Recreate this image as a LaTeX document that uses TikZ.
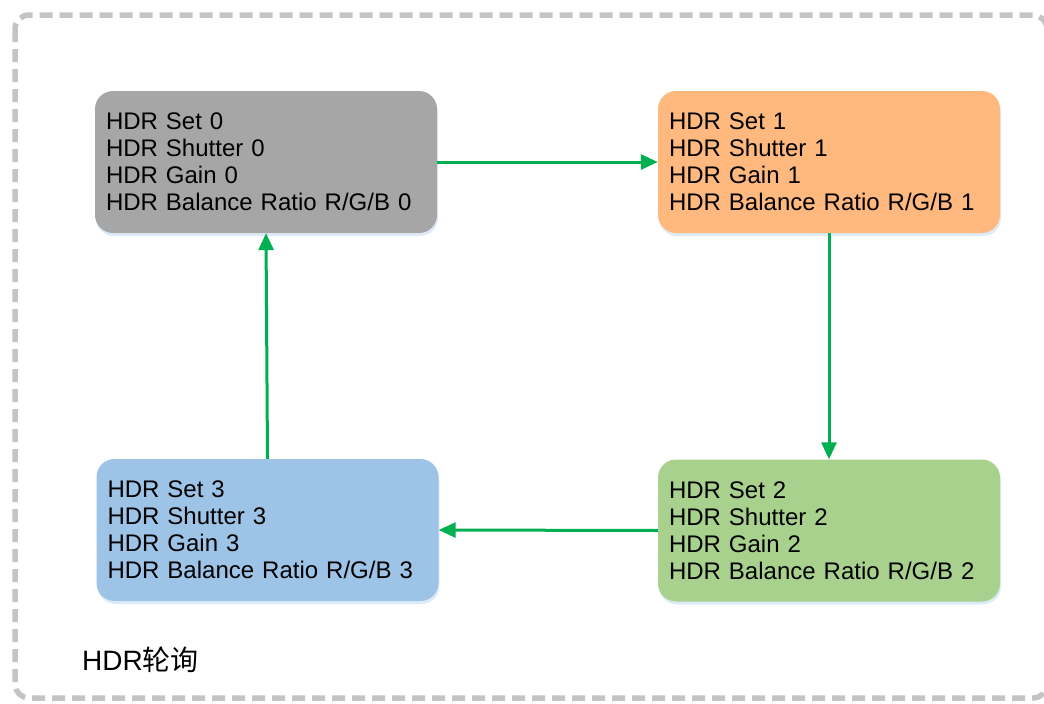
\documentclass[tikz,border=0pt]{standalone}
\usepackage{fontspec}
\setmainfont{Liberation Sans}
\newfontfamily\cjk{Noto Sans CJK SC}
\usetikzlibrary{arrows.meta,shadows}
\definecolor{bordergray}{HTML}{C4C4C4}
\definecolor{boxgray}{HTML}{A6A6A6}
\definecolor{boxorange}{HTML}{FFB97F}
\definecolor{boxblue}{HTML}{9DC3E6}
\definecolor{boxgreen}{HTML}{A9D18E}
\definecolor{arrowgreen}{HTML}{00B050}
\definecolor{shadowblue}{HTML}{BDD7EE}
\tikzset{
  hdrbox/.style={rectangle, rounded corners=18pt, minimum width=342pt, minimum height=142pt,
    text width=320pt, inner xsep=11pt, inner ysep=0pt, align=left,
    font=\fontsize{24}{27}\selectfont,
    drop shadow={shadow xshift=1pt, shadow yshift=-3pt, opacity=0.5, fill=shadowblue}},
  flow/.style={draw=arrowgreen, line width=3pt, -{Triangle[length=17pt,width=15pt]}},
  border/.style={draw=bordergray, line width=5.5pt, dash pattern=on 13pt off 7pt, rounded corners=14pt}
}
\begin{document}
\begin{tikzpicture}[x=1pt,y=-1pt]
\useasboundingbox (0,0) rectangle (1044,704);
\draw[border] (15,15) rectangle (1047,698);
\node[hdrbox, fill=boxgray] (b0) at (266,162) {HDR Set 0\\HDR Shutter 0\\HDR Gain 0\\HDR Balance Ratio R/G/B 0};
\node[hdrbox, fill=boxorange] (b1) at (829,162) {HDR Set 1\\HDR Shutter 1\\HDR Gain 1\\HDR Balance Ratio R/G/B 1};
\node[hdrbox, fill=boxgreen] (b2) at (829,530.5) {HDR Set 2\\HDR Shutter 2\\HDR Gain 2\\HDR Balance Ratio R/G/B 2};
\node[hdrbox, fill=boxblue] (b3) at (267.5,530) {HDR Set 3\\HDR Shutter 3\\HDR Gain 3\\HDR Balance Ratio R/G/B 3};
\draw[flow] (b0.east) -- (b1.west);
\draw[flow] (b1.south) -- (b2.north);
\draw[flow] (b2.west) -- (b3.east);
\draw[flow] (b3.north) -- (b0.south);
\node[anchor=west, inner sep=0pt, font=\fontsize{28}{31}\selectfont] (lbl) at (82,660) {HDR{\cjk 轮询}};
\end{tikzpicture}
\end{document}
